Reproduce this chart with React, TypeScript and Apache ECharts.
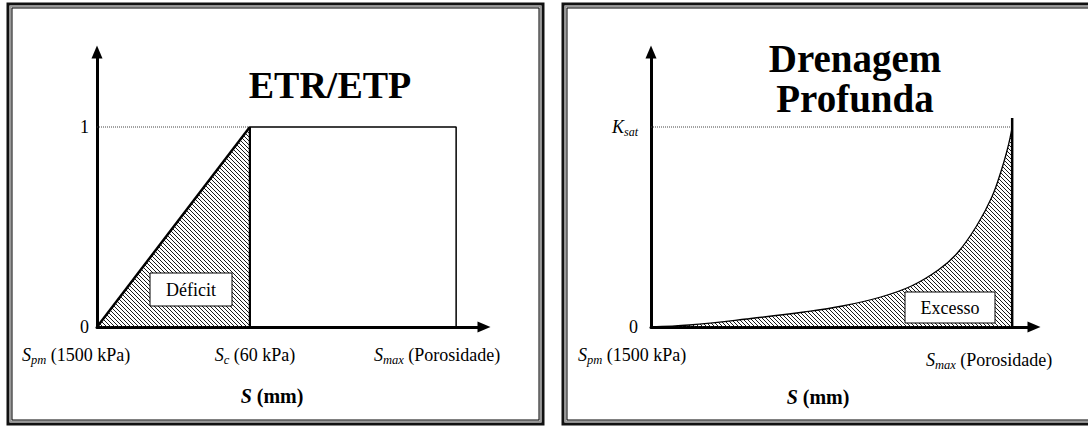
import { useEffect, useRef } from 'react';
import * as echarts from 'echarts';

// ---------- data ----------
const leftTitle = 'ETR/ETP';
const rightTitle = ['Drenagem', 'Profunda'];

// Left panel (ETR/ETP vs S), x normalised 0..1 of the drawn axis
const etrRampX = [0, 0.395];
const etrRampY = [0, 1];
const etrPlateauX = [0.395, 0.395, 0.928, 0.928];
const etrPlateauY = [0, 1, 1, 0];
const etrRefX = [0, 0.395];
const etrRefY = [1, 1];

// Right panel (drenagem profunda vs S)
const drenX = [0, 0.1, 0.25, 0.4, 0.5, 0.6, 0.68, 0.75, 0.8, 0.85, 0.89, 0.915, 0.93, 0.938, 0.943];
const drenY = [0, 0.01, 0.04, 0.075, 0.105, 0.15, 0.205, 0.285, 0.37, 0.505, 0.65, 0.785, 0.885, 0.95, 1.0];
const drenWallX = [0.943, 0.943];
const drenWallY = [0, 1.045];
const drenRefX = [0, 0.943];
const drenRefY = [1, 1];

const yTickValues = [0, 1];
const leftYLabels = ['0', '1'];
const rightYLabels = ['0', '{k|K}{s|sat}'];

const zip = (xs: number[], ys: number[]) => xs.map((x, i) => [x, ys[i]]);

const SERIF = '"Liberation Serif", "DejaVu Serif", serif';

function makeHatch() {
  const c = document.createElement('canvas');
  c.width = 8;
  c.height = 8;
  const ctx = c.getContext('2d')!;
  ctx.strokeStyle = '#1a1a1a';
  ctx.lineWidth = 1;
  for (let k = -2; k <= 2; k++) {
    ctx.beginPath();
    ctx.moveTo(k * 4, 0);
    ctx.lineTo(k * 4 + 8, 8);
    ctx.stroke();
  }
  return c;
}

function frame(x: number, y: number, w: number, h: number) {
  return [
    { type: 'rect', shape: { x, y, width: w, height: h }, style: { fill: 'none', stroke: '#111', lineWidth: 3 }, z: 50 },
    { type: 'rect', shape: { x: x + 2.5, y: y + 2.5, width: w - 5, height: h - 5 }, style: { fill: 'none', stroke: '#999', lineWidth: 2 }, z: 50 },
    { type: 'rect', shape: { x: x + 4, y: y + 4, width: w - 8, height: h - 8 }, style: { fill: 'none', stroke: '#000', lineWidth: 1 }, z: 50 },
  ];
}

function txt(x: number, y: number, text: string, opts: any = {}) {
  const align = opts.align || 'left';
  return {
    type: 'text',
    x,
    y,
    z: 60,
    style: {
      text,
      fontFamily: SERIF,
      fontSize: opts.fontSize || 18,
      fontWeight: opts.fontWeight || 'normal',
      lineHeight: opts.lineHeight,
      fill: '#000',
      align,
      textAlign: align,
      verticalAlign: 'middle',
      textVerticalAlign: 'middle',
      rich: opts.rich,
    },
  };
}

const subRich = {
  i: { fontFamily: SERIF, fontSize: 18, fontStyle: 'italic', lineHeight: 22, fill: '#000' },
  s: { fontFamily: SERIF, fontSize: 12.5, fontStyle: 'italic', lineHeight: 11, verticalAlign: 'bottom', fill: '#000' },
  n: { fontFamily: SERIF, fontSize: 18, lineHeight: 22, fill: '#000' },
};
const boldRich = {
  b: { fontFamily: SERIF, fontSize: 20, fontStyle: 'italic', fontWeight: 'bold', fill: '#000' },
  m: { fontFamily: SERIF, fontSize: 20, fontWeight: 'bold', fill: '#000' },
};

export default function App() {
  const ref = useRef<HTMLDivElement>(null);
  useEffect(() => {
    if (!ref.current) return;
    const chart = echarts.init(ref.current, undefined, { renderer: 'svg' });
    const hatch = { image: makeHatch(), repeat: 'repeat', imageWidth: 8, imageHeight: 8 } as any;

    const axisLine = {
      show: true,
      onZero: false,
      symbol: ['none', 'triangle'],
      symbolSize: [11, 13],
      lineStyle: { color: '#000', width: 3 },
    };
    const xAxisBase = {
      type: 'value',
      min: 0,
      max: 1,
      axisLine,
      axisTick: { show: false },
      axisLabel: { show: false },
      splitLine: { show: false },
    };
    const yAxisBase = {
      type: 'value',
      min: 0,
      max: 1.375,
      interval: 1,
      axisLine,
      axisTick: { show: false },
      splitLine: { show: false },
    };
    const labelFor = (labels: string[]) => (v: number) => {
      const idx = yTickValues.indexOf(v);
      return idx >= 0 ? labels[idx] : '';
    };

    const lineSeries = (data: number[][], idx: number, lineStyle: any, extra: any = {}) => ({
      type: 'line',
      xAxisIndex: idx,
      yAxisIndex: idx,
      data,
      symbol: 'none',
      lineStyle: { color: '#000', ...lineStyle },
      silent: true,
      ...extra,
    });

    chart.setOption({
      animation: false,
      backgroundColor: '#fff',
      grid: [
        { left: 97, top: 52, width: 387, height: 275 },
        { left: 651, top: 52, width: 383, height: 275 },
      ],
      xAxis: [
        { ...xAxisBase, gridIndex: 0 },
        { ...xAxisBase, gridIndex: 1 },
      ],
      yAxis: [
        {
          ...yAxisBase,
          gridIndex: 0,
          axisLabel: { formatter: labelFor(leftYLabels), fontFamily: SERIF, fontSize: 18, color: '#000', margin: 8, showMaxLabel: false },
        },
        {
          ...yAxisBase,
          gridIndex: 1,
          axisLabel: {
            formatter: labelFor(rightYLabels),
            fontFamily: SERIF,
            fontSize: 18,
            color: '#000',
            margin: 13,
            showMaxLabel: false,
            rich: {
              k: { fontFamily: SERIF, fontSize: 18, fontStyle: 'italic', lineHeight: 22, color: '#000' },
              s: { fontFamily: SERIF, fontSize: 12, fontStyle: 'italic', lineHeight: 10, verticalAlign: 'bottom', color: '#000' },
            },
          },
        },
      ],
      series: [
        lineSeries(zip(etrRefX, etrRefY), 0, { type: 'dotted', width: 1, color: '#444' }),
        lineSeries(zip(etrRampX, etrRampY), 0, { width: 2.5 }, { areaStyle: { color: hatch, opacity: 1 } }),
        lineSeries(zip(etrPlateauX, etrPlateauY), 0, { width: 1.5 }),
        lineSeries(zip([etrPlateauX[0], etrPlateauX[1]], [etrPlateauY[0], etrPlateauY[1]]), 0, { width: 2.2 }),
        lineSeries(zip(drenRefX, drenRefY), 1, { type: 'dotted', width: 1, color: '#444' }),
        lineSeries(zip(drenX, drenY), 1, { width: 1.3 }, { smooth: 0.4, areaStyle: { color: hatch, opacity: 1 } }),
        lineSeries(zip(drenWallX, drenWallY), 1, { width: 2.5 }),
      ],
      graphic: [
        ...frame(8, 4, 535, 420),
        ...frame(563, 4, 540, 420),
        txt(330, 85, leftTitle, { align: 'center', fontSize: 38, fontWeight: 'bold' }),
        txt(855, 78, rightTitle.join('\n'), { align: 'center', fontSize: 39, fontWeight: 'bold', lineHeight: 40 }),
        { type: 'rect', z: 55, shape: { x: 150, y: 273, width: 82, height: 33 }, style: { fill: '#fff', stroke: '#000', lineWidth: 1 } },
        txt(191, 290, 'Déficit', { align: 'center', fontSize: 18 }),
        { type: 'rect', z: 55, shape: { x: 905, y: 292, width: 90, height: 31 }, style: { fill: '#fff', stroke: '#000', lineWidth: 1 } },
        txt(950, 308, 'Excesso', { align: 'center', fontSize: 18 }),
        txt(22, 355, '{i|S}{s|pm}{n| (1500 kPa)}', { rich: subRich }),
        txt(255, 355, '{i|S}{s|c}{n| (60 kPa)}', { align: 'center', rich: subRich }),
        txt(374, 355, '{i|S}{s|max}{n| (Porosidade)}', { rich: subRich }),
        txt(272, 396, '{b|S}{m| (mm)}', { align: 'center', rich: boldRich }),
        txt(578, 355, '{i|S}{s|pm}{n| (1500 kPa)}', { rich: subRich }),
        txt(926, 360, '{i|S}{s|max}{n| (Porosidade)}', { rich: subRich }),
        txt(818, 397, '{b|S}{m| (mm)}', { align: 'center', rich: boldRich }),
      ],
    });
    return () => chart.dispose();
  }, []);
  return <div ref={ref} style={{ position: 'fixed', left: 0, top: 0, width: 1088, height: 427 }} />;
}
